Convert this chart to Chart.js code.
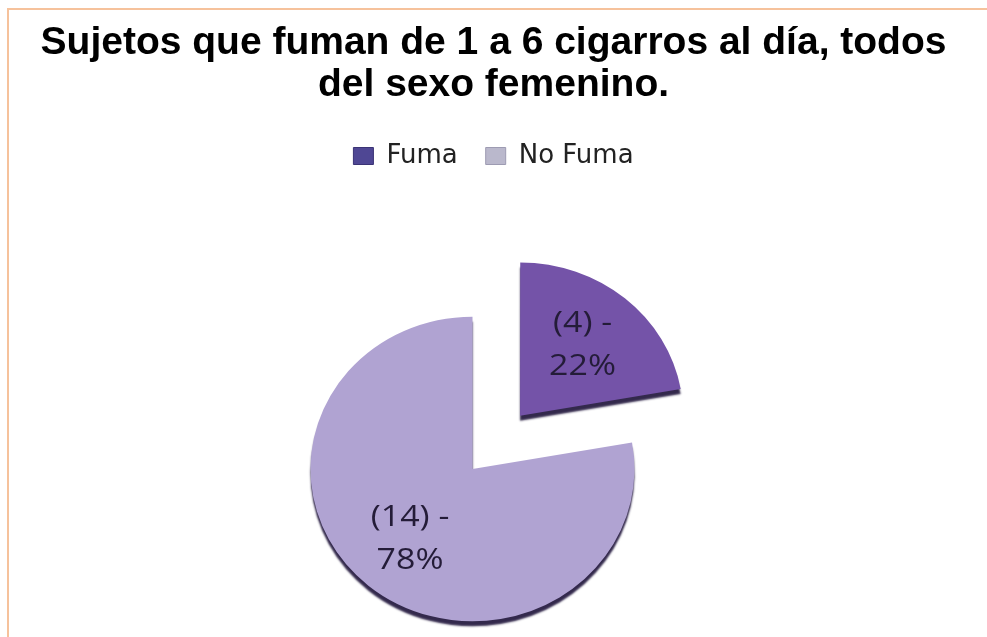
<!DOCTYPE html>
<html>
<head>
<meta charset="utf-8">
<script src="https://cdn.jsdelivr.net/npm/chart.js@4.4.1/dist/chart.umd.min.js"></script>
<style>
  html, body { margin: 0; padding: 0; background: #ffffff; }
  #wrap { position: relative; width: 987px; height: 637px; }
  canvas { display: block; }
</style>
</head>
<body>
<div id="wrap"><canvas id="c" width="987" height="637"></canvas></div>
<script>
// Data
const categories = ['Fuma', 'No Fuma'];
const counts = [4, 14];
const titleLines = ['Sujetos que fuman de 1 a 6 cigarros al día, todos', 'del sexo femenino.'];

// Styling
const sliceColors = ['#7453a8', '#b0a3d2'];
const legendColors = ['#4f4794', '#bab8cc'];
const legendBorders = ['#3a3375', '#9d9bb2'];
const sliceOffsets = [296, 0];        // exploded "Fuma" slice
const PIE_RADIUS = 162;
const PIE_TILT = 0.94;                // slight vertical squash of the pie
const PIE_SHIFT = { x: -21, y: 61 };  // move plot area relative to default layout
const LABEL_FONT = '29px "Open Sans", sans-serif';
const LABEL_STRETCH = 1.17;           // labels are drawn a little wide
const LABEL_LINE = 43;
const LABEL_RADIUS = 0.6;

const total = counts.reduce((a, b) => a + b, 0);

// Frame: thin orange rule along top and left edges
const framePlugin = {
  id: 'frame',
  beforeDraw(chart) {
    const ctx = chart.ctx;
    ctx.save();
    ctx.fillStyle = '#ffffff';
    ctx.fillRect(0, 0, chart.width, chart.height);
    ctx.strokeStyle = '#f6c29c';
    ctx.lineWidth = 2;
    ctx.beginPath();
    ctx.moveTo(8, chart.height);
    ctx.lineTo(8, 9);
    ctx.lineTo(chart.width, 9);
    ctx.stroke();
    ctx.restore();
  }
};

// Shift the plot area so the pie sits where it should
const areaPlugin = {
  id: 'areaShift',
  afterLayout(chart) {
    const a = chart.chartArea;
    a.left += PIE_SHIFT.x; a.right += PIE_SHIFT.x;
    a.top += PIE_SHIFT.y; a.bottom += PIE_SHIFT.y;
    a.width = a.right - a.left; a.height = a.bottom - a.top;
  }
};

// Tilt + dark rim under the slices, then value labels on top
const pieLookPlugin = {
  id: 'pieLook',
  beforeDatasetsDraw(chart) {
    const arc = chart.getDatasetMeta(0).data[0];
    const ctx = chart.ctx;
    ctx.save();
    ctx.translate(arc.x, arc.y);
    ctx.scale(1, PIE_TILT);
    ctx.translate(-arc.x, -arc.y);
    ctx.shadowColor = 'rgba(40, 30, 66, 0.95)';
    ctx.shadowBlur = 2;
    ctx.shadowOffsetX = 0;
    ctx.shadowOffsetY = 5;
  },
  afterDatasetsDraw(chart) {
    const ctx = chart.ctx;
    ctx.restore();
    const meta = chart.getDatasetMeta(0);
    meta.data.forEach((arc, i) => {
      const mid = (arc.startAngle + arc.endAngle) / 2;
      const r = arc.outerRadius * LABEL_RADIUS + (sliceOffsets[i] || 0) / 4;
      const x = arc.x + Math.cos(mid) * r;
      const y = arc.y + Math.sin(mid) * r * PIE_TILT;
      const pct = Math.round(counts[i] / total * 100);
      ctx.save();
      ctx.translate(x, y);
      ctx.scale(LABEL_STRETCH, 1);
      ctx.font = LABEL_FONT;
      ctx.fillStyle = '#241c38';
      ctx.textAlign = 'center';
      ctx.textBaseline = 'middle';
      ctx.fillText('(' + counts[i] + ') -', 0, -LABEL_LINE / 2);
      ctx.fillText(pct + '%', 0, LABEL_LINE / 2);
      ctx.restore();
    });
  }
};

new Chart(document.getElementById('c'), {
  type: 'pie',
  data: {
    labels: categories,
    datasets: [{
      data: counts,
      backgroundColor: sliceColors,
      borderWidth: 0,
      offset: sliceOffsets,
      clip: false
    }]
  },
  options: {
    responsive: false,
    animation: false,
    radius: PIE_RADIUS,
    layout: { padding: 0 },
    plugins: {
      title: {
        display: true,
        text: titleLines,
        color: '#000000',
        font: { family: '"Liberation Sans", Arial, sans-serif', size: 39, weight: 'bold', lineHeight: 42 / 39 },
        padding: { top: 22, bottom: 9 }
      },
      legend: {
        display: true,
        position: 'top',
        labels: {
          boxWidth: 20,
          boxHeight: 17,
          padding: 28,
          color: '#222222',
          font: { family: '"DejaVu Sans", sans-serif', size: 26 },
          generateLabels: () => categories.map((name, i) => ({
            text: name,
            fillStyle: legendColors[i],
            strokeStyle: legendBorders[i],
            lineWidth: 1,
            hidden: false,
            index: i,
            fontColor: '#222222'
          }))
        }
      },
      tooltip: { enabled: false }
    }
  },
  plugins: [framePlugin, areaPlugin, pieLookPlugin]
});
</script>
</body>
</html>
